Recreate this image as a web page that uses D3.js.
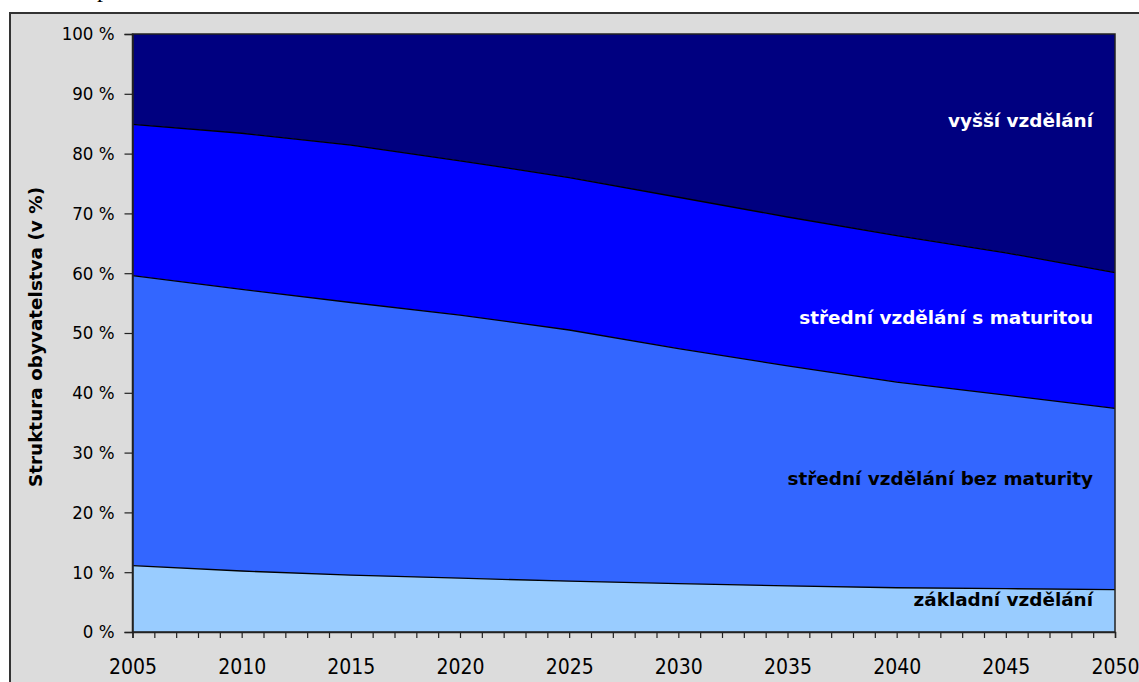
<!DOCTYPE html>
<html lang="cs">
<head>
  <meta charset="UTF-8">
  <title>Struktura obyvatelstva podle vzdělání</title>
  <script src="https://d3js.org/d3.v7.min.js"></script>
  <style>
    body { margin: 0; background: #fff; }
    svg { display: block; }
    .tick text { font-family: "DejaVu Sans Condensed", "DejaVu Sans", sans-serif; fill: #000; }
    .y-axis .tick text { font-size: 18.5px; }
    .x-axis .tick text { font-size: 21px; }
    .label { font-family: "DejaVu Sans", sans-serif; font-size: 18.4px; font-weight: bold; }
  </style>
</head>
<body>
<svg id="chart" width="1139" height="682"></svg>
<script>
// years on the x axis (5-year steps)
const years = [2005, 2010, 2015, 2020, 2025, 2030, 2035, 2040, 2045, 2050];

// shares of each education level, % of population
const zakladni      = [11.1, 10.2, 9.5, 9.0, 8.5, 8.1, 7.7, 7.4, 7.25, 7.1];
const bezMaturity   = [48.5, 47.1, 45.6, 44.0, 42.0, 39.3, 36.8, 34.4, 32.35, 30.3];
const sMaturitou    = [25.3, 26.1, 26.3, 25.8, 25.5, 25.3, 24.9, 24.5, 23.8, 22.7];
const vyssi         = [15.1, 16.6, 18.6, 21.2, 24.0, 27.3, 30.6, 33.7, 36.6, 39.9];

const seriesNames = ["základní vzdělání", "střední vzdělání bez maturity", "střední vzdělání s maturitou", "vyšší vzdělání"];
const yTicks = [0, 10, 20, 30, 40, 50, 60, 70, 80, 90, 100];

const colors = ["#99ccff", "#3366ff", "#0000ff", "#000080"];
const labelColors = ["#000", "#000", "#fff", "#fff"];
const labelY = [606, 485, 324, 127];

const svg = d3.select("#chart");

// outer frame (cut by the window on the right and bottom)
svg.append("rect")
  .attr("x", 10).attr("y", 13)
  .attr("width", 1200).attr("height", 700)
  .attr("fill", "#dcdcdc")
  .attr("stroke", "#333").attr("stroke-width", 2);

// bit of the title above, cut off by the crop
svg.append("text")
  .attr("x", 97).attr("y", -3)
  .attr("font-family", "Liberation Serif").attr("font-size", 24)
  .text("p");

const margin = { left: 132.5, right: 1115, top: 34, bottom: 632 };

const x = d3.scaleLinear().domain([2005, 2050]).range([margin.left, margin.right]);
const y = d3.scaleLinear().domain([0, 100]).range([margin.bottom, margin.top]);

const rows = years.map((yr, i) => ({
  year: yr,
  s0: zakladni[i], s1: bezMaturity[i], s2: sMaturitou[i], s3: vyssi[i]
}));

const stack = d3.stack().keys(["s0", "s1", "s2", "s3"]);
const layers = stack(rows);

const area = d3.area()
  .x(d => x(d.data.year))
  .y0(d => y(d[0]))
  .y1(d => y(d[1]));

svg.append("g").selectAll("path")
  .data(layers)
  .join("path")
  .attr("fill", (d, i) => colors[i])
  .attr("d", area);

// boundary lines between the layers
const line = d3.line()
  .x(d => x(d.data.year))
  .y(d => y(d[1]));

svg.append("g").selectAll("path")
  .data(layers.slice(0, 3))
  .join("path")
  .attr("fill", "none")
  .attr("stroke", "#000")
  .attr("stroke-width", 1.3)
  .attr("d", line);

// plot border
svg.append("rect")
  .attr("x", margin.left).attr("y", margin.top)
  .attr("width", margin.right - margin.left)
  .attr("height", margin.bottom - margin.top)
  .attr("fill", "none")
  .attr("stroke", "#222").attr("stroke-width", 1.5);

// y axis
const yAxis = svg.append("g")
  .attr("class", "y-axis")
  .attr("transform", `translate(${margin.left},0)`)
  .call(d3.axisLeft(y).tickValues(yTicks).tickSize(8).tickPadding(10).tickFormat(d => d + " %"));
yAxis.select(".domain").attr("stroke", "#222").attr("stroke-width", 1.5);
yAxis.selectAll(".tick line").attr("stroke", "#222").attr("stroke-width", 1.2);

// x axis, a tick every year, a label every five
const xAxis = svg.append("g")
  .attr("class", "x-axis")
  .attr("transform", `translate(0,${margin.bottom})`)
  .call(d3.axisBottom(x).tickValues(d3.range(2005, 2051)).tickSize(6).tickPadding(21)
    .tickFormat(d => d % 5 === 0 ? d : ""));
xAxis.select(".domain").attr("stroke", "#222").attr("stroke-width", 1.5);
xAxis.selectAll(".tick line").attr("stroke", "#222").attr("stroke-width", 1.2);

// y axis title
svg.append("text")
  .attr("transform", "translate(42,337) rotate(-90)")
  .attr("text-anchor", "middle")
  .attr("class", "label")
  .text("Struktura obyvatelstva (v %)");

// series labels inside the areas
svg.append("g").selectAll("text")
  .data(seriesNames)
  .join("text")
  .attr("class", "label")
  .attr("x", 1093)
  .attr("y", (d, i) => labelY[i])
  .attr("text-anchor", "end")
  .attr("fill", (d, i) => labelColors[i])
  .text(d => d);
</script>
</body>
</html>
